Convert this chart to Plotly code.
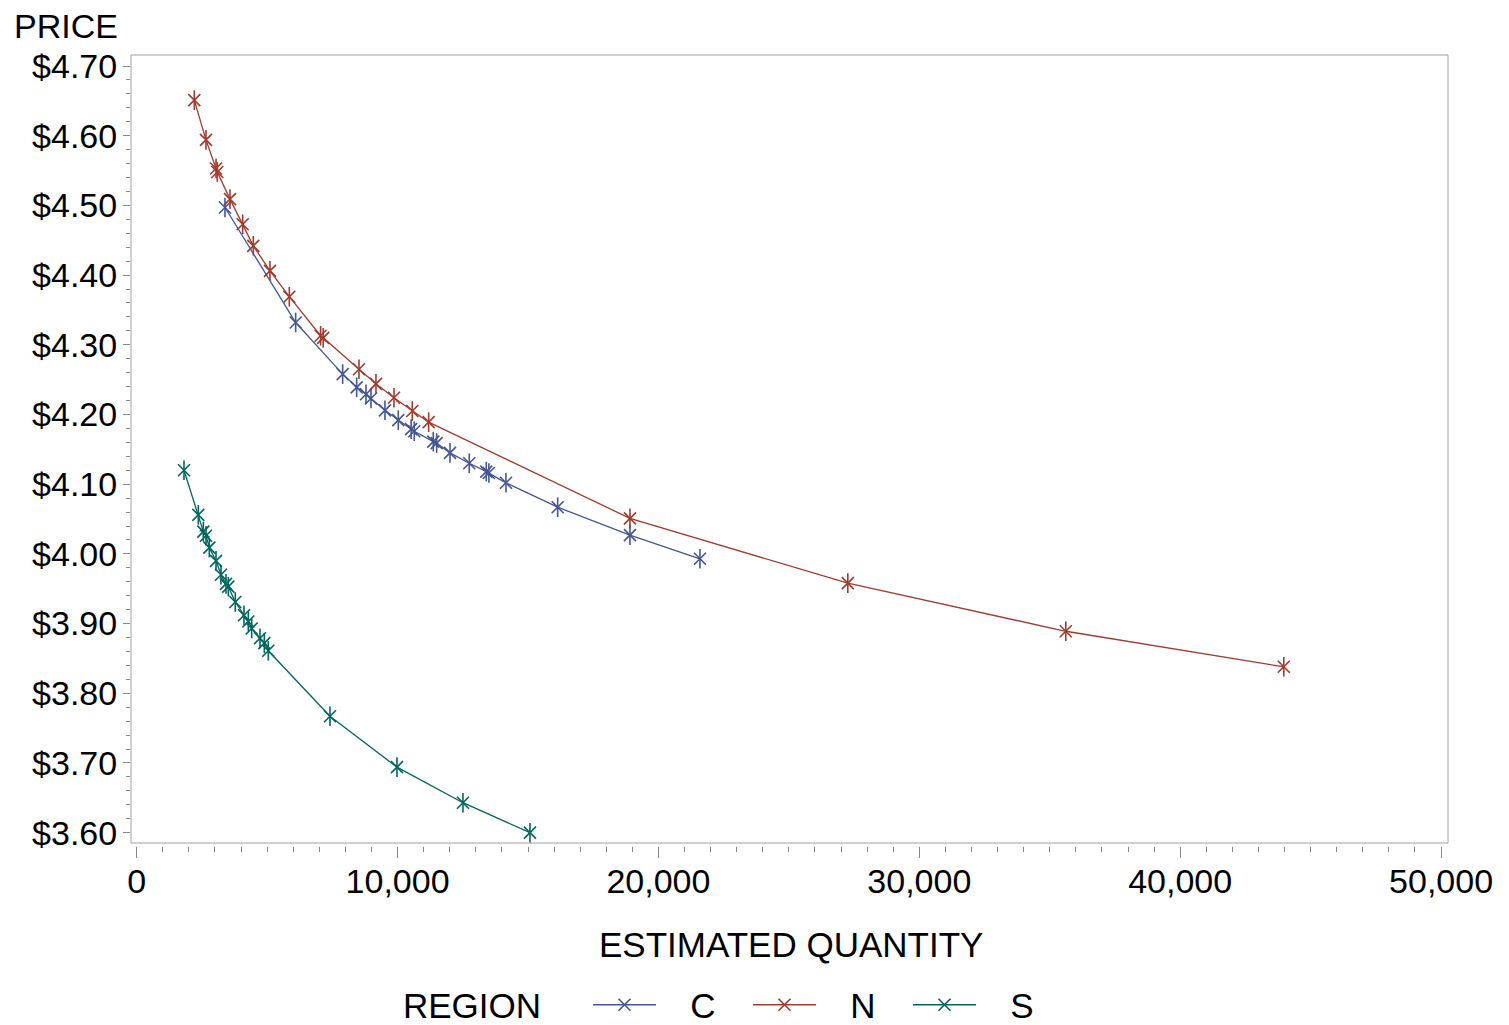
import plotly.graph_objects as go

# Region C
c_qty = [3385, 6094, 7895, 8432, 8789, 8981, 9517, 10027, 10520, 10640, 11368, 11498,
         12009, 12748, 13400, 13500, 14155, 16137, 18908, 21591]
c_price = [4.497, 4.332, 4.258, 4.239, 4.229, 4.223, 4.206, 4.192, 4.179, 4.176, 4.161, 4.159,
           4.145, 4.130, 4.118, 4.116, 4.102, 4.067, 4.027, 3.993]

# Region N
n_qty = [2208, 2656, 3040, 3090, 3576, 4063, 4470, 5109, 5850, 7050, 7150, 8521, 9172,
         9862, 10564, 11192, 18908, 27259, 35615, 43971]
n_price = [4.651, 4.594, 4.553, 4.548, 4.509, 4.473, 4.442, 4.406, 4.369, 4.313, 4.310, 4.265,
           4.244, 4.224, 4.205, 4.189, 4.051, 3.958, 3.889, 3.838]

# Region S
s_qty = [1813, 2362, 2554, 2656, 2784, 3040, 3231, 3423, 3512, 3780, 4113, 4279, 4408,
         4726, 4892, 5044, 7409, 9977, 12507, 15075]
s_price = [4.120, 4.056, 4.032, 4.026, 4.009, 3.990, 3.970, 3.957, 3.953, 3.931, 3.912, 3.903,
           3.893, 3.879, 3.872, 3.861, 3.767, 3.694, 3.643, 3.600]

regions = ["C", "N", "S"]
colors = ["#445694", "#A23A2E", "#01665E"]
series = [(c_qty, c_price), (n_qty, n_price), (s_qty, s_price)]

FONT = "Liberation Sans, Arial, sans-serif"
FS = 34
NB = "\u00a0"

fig = go.Figure()
for name, col, (xq, yp) in zip(regions, colors, series):
    # line + X part of the 6-armed asterisk marker
    fig.add_trace(go.Scatter(
        x=xq, y=yp, name=NB * 3 + name, mode="lines+markers", legendgroup=name,
        line=dict(color=col, width=1.3),
        marker=dict(symbol="x-thin-open", size=12, color=col,
                    line=dict(color=col, width=1.6)),
    ))
    # vertical bar of the asterisk marker
    fig.add_trace(go.Scatter(
        x=xq, y=yp, mode="markers", legendgroup=name, showlegend=False,
        marker=dict(symbol="line-ns-open", size=14, color=col,
                    line=dict(color=col, width=1.6)),
        hoverinfo="skip",
    ))

# page has an 8px body margin; figure is sized so it ends at the window edge
OFF = 8
W, H = 1509 - OFF, 1025 - OFF
PL, PR, PT, PB = 131, 1448, 55, 846   # page coords of plot region (PB = x-axis line)
L, T = PL - OFF, PT - OFF
R, B = 1509 - PR, 1025 - PB
plot_w = PR - PL
plot_h = PB - PT


def px(xp):
    return (xp - PL) / plot_w


def py(yp):
    return (PB - yp) / plot_h


fig.update_layout(
    width=W, height=H,
    margin=dict(l=L, r=R, t=T, b=B, pad=0, autoexpand=False),
    paper_bgcolor="white", plot_bgcolor="white",
    font=dict(family=FONT, size=FS, color="black"),
    showlegend=True,
    legend=dict(
        orientation="h", xref="container", yref="container",
        x=(588 - OFF) / W, xanchor="left",
        y=(1025 - 1005) / H, yanchor="middle",
        font=dict(size=35), itemwidth=63, entrywidth=82,
        bgcolor="rgba(0,0,0,0)",
    ),
    xaxis=dict(
        range=[-218.5, 50266], anchor="free", position=0,
        tickmode="linear", tick0=0, dtick=10000, tickformat=",d",
        ticks="outside", ticklen=11, tickcolor="#888888", tickwidth=1,
        ticklabelstandoff=-6,
        showgrid=False, zeroline=False, showline=False,
        minor=dict(dtick=1000, ticks="outside", ticklen=5, tickcolor="#888888", showgrid=False),
        tickfont=dict(size=FS),
    ),
    yaxis=dict(
        range=[3.5852, 4.7158], domain=[3 / plot_h, 1],
        tickmode="linear", tick0=3.6, dtick=0.1, tickformat="$.2f",
        ticks="outside", ticklen=7, tickcolor="#888888", tickwidth=1,
        ticklabelstandoff=-1,
        showgrid=False, zeroline=False, showline=False,
        minor=dict(dtick=0.02, ticks="outside", ticklen=4, tickcolor="#888888", showgrid=False),
        tickfont=dict(size=FS),
    ),
)

fig.add_shape(type="rect", xref="paper", yref="y domain", x0=0, x1=1, y0=0, y1=1,
              line=dict(color="#a0a0a0", width=1), fillcolor="rgba(0,0,0,0)", layer="below")

fig.add_annotation(text="PRICE", xref="paper", yref="paper",
                   x=px(12), y=py(26),
                   xanchor="left", yanchor="middle", showarrow=False,
                   font=dict(size=FS))
fig.add_annotation(text="ESTIMATED QUANTITY", xref="paper", yref="paper",
                   x=px(791), y=py(944),
                   xanchor="center", yanchor="middle", showarrow=False,
                   font=dict(size=35))
fig.add_annotation(text="REGION", xref="paper", yref="paper",
                   x=px(401), y=py(1005),
                   xanchor="left", yanchor="middle", showarrow=False,
                   font=dict(size=35))

fig.write_html("out.html")
